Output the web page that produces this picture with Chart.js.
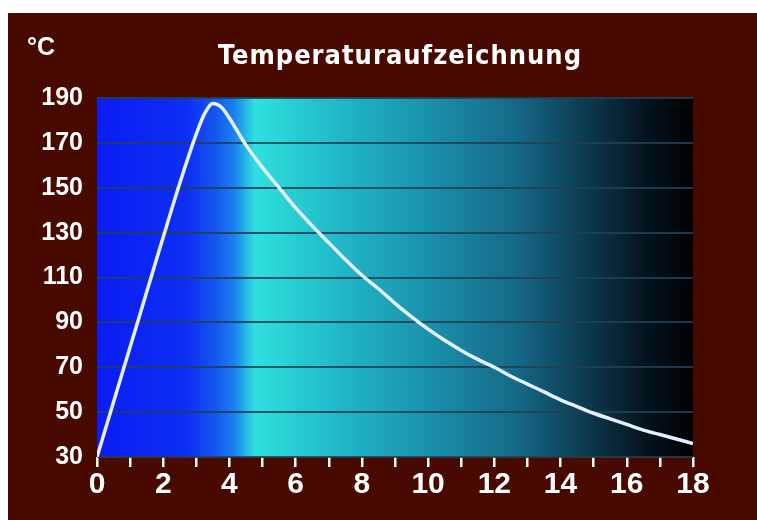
<!DOCTYPE html>
<html>
<head>
<meta charset="utf-8">
<script src="https://cdn.jsdelivr.net/npm/chart.js@4"></script>
<style>
  html, body { margin: 0; padding: 0; background: #fff; }
  #wrap { width: 757px; height: 520px; }
</style>
</head>
<body>
<div id="wrap"><canvas id="tempChart" width="757" height="520"></canvas></div>
<script>
// time (x) and temperature in °C
const times = [0, 0.5, 1, 1.5, 2, 2.5, 3, 3.25, 3.5, 3.75, 4, 4.25, 4.5, 5, 5.5, 6, 6.5, 7, 7.5, 8, 8.5, 9, 9.5, 10, 10.5, 11, 11.5, 12, 12.5, 13, 13.5, 14, 14.5, 15, 15.5, 16, 16.5, 17, 17.5, 18];
const temps = [30, 54.5, 79, 103.5, 128, 152, 174, 183, 187.5, 186, 181, 175, 169, 159, 150, 141, 133, 125.5, 118, 111, 105, 98.5, 92.5, 87, 82, 77.5, 73.5, 70, 66, 62.5, 59, 55.5, 52.5, 49.5, 47, 44.5, 42, 40, 38, 36];
const xTickLabels = [0, 2, 4, 6, 8, 10, 12, 14, 16, 18];
const yTickLabels = [30, 50, 70, 90, 110, 130, 150, 170, 190];

const chartTitle = 'Temperaturaufzeichnung';
const unitLabel = '°C';

// background, gradient and top texts
const backdrop = {
    id: 'backdrop',
    beforeDraw(chart) {
        const ctx = chart.ctx;
        ctx.save();
        ctx.fillStyle = '#ffffff';
        ctx.fillRect(0, 0, chart.width, chart.height);
        ctx.fillStyle = '#480900';
        ctx.fillRect(8, 13, chart.width - 8, chart.height - 13);

        const a = chart.chartArea;
        const g = ctx.createLinearGradient(a.left, 0, a.right, 0);
        g.addColorStop(0.00, '#0a1cf4');
        g.addColorStop(0.15, '#0d2ef2');
        g.addColorStop(0.20, '#1558ee');
        g.addColorStop(0.23, '#1a80ee');
        g.addColorStop(0.245, '#22aae6');
        g.addColorStop(0.265, '#30e0e0');
        g.addColorStop(0.32, '#28d0d4');
        g.addColorStop(0.42, '#20b4c6');
        g.addColorStop(0.55, '#1a92ac');
        g.addColorStop(0.70, '#166a88');
        g.addColorStop(0.82, '#0c3a50');
        g.addColorStop(0.92, '#04141e');
        g.addColorStop(1.00, '#000000');
        ctx.fillStyle = g;
        ctx.fillRect(a.left, a.top, a.right - a.left, a.bottom - a.top);

        ctx.fillStyle = '#ffffff';
        ctx.textBaseline = 'middle';
        ctx.textAlign = 'left';
        ctx.font = 'bold 25px "Liberation Sans", Arial, sans-serif';
        ctx.fillText(unitLabel, 27, 48);
        ctx.textAlign = 'center';
        ctx.font = 'bold 27px "Liberation Sans Narrow", "DejaVu Sans Condensed", sans-serif';
        ctx.letterSpacing = '1px';
        ctx.fillText(chartTitle, 400, 57);
        ctx.restore();
    }
};

const ctx = document.getElementById('tempChart').getContext('2d');
const tempChart = new Chart(ctx, {
    type: 'line',
    data: {
        datasets: [{
            data: times.map((t, i) => ({ x: t, y: temps[i] })),
            borderColor: '#e4f0ff',
            borderWidth: 3.5,
            pointRadius: 0,
            cubicInterpolationMode: 'monotone',
            fill: false
        }]
    },
    options: {
        responsive: false,
        animation: false,
        layout: { padding: { left: 0, top: 98, right: 64, bottom: 13 } },
        plugins: {
            legend: { display: false },
            title: { display: false },
            tooltip: { enabled: false }
        },
        scales: {
            x: {
                type: 'linear',
                min: 0,
                max: 18,
                afterFit(scale) { scale.height = 50; },
                border: { display: false },
                grid: {
                    drawOnChartArea: false,
                    color: '#ffffff',
                    tickLength: 10,
                    lineWidth: 2.5
                },
                ticks: {
                    stepSize: 1,
                    autoSkip: false,
                    maxRotation: 0,
                    padding: 0,
                    color: '#ffffff',
                    font: { family: '"Liberation Sans", Arial, sans-serif', size: 30, weight: 'bold' },
                    callback: v => xTickLabels.includes(v) ? String(v) : ''
                }
            },
            y: {
                min: 30,
                max: 190,
                afterFit(scale) { scale.width = 97; },
                border: { display: false },
                grid: {
                    color: 'rgba(34, 64, 84, 0.85)',
                    lineWidth: 2,
                    drawTicks: false
                },
                ticks: {
                    stepSize: 20,
                    padding: 14,
                    color: '#ffffff',
                    font: { family: '"Liberation Sans", Arial, sans-serif', size: 25, weight: 'bold' },
                    callback: v => yTickLabels.includes(v) ? String(v) : ''
                }
            }
        }
    },
    plugins: [backdrop]
});
</script>
</body>
</html>
